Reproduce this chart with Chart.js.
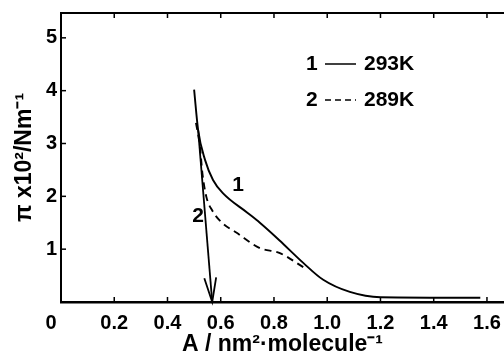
<!DOCTYPE html>
<html>
<head>
<meta charset="utf-8">
<script src="https://cdn.jsdelivr.net/npm/chart.js@4.4.0/dist/chart.umd.min.js"></script>
<style>
  html, body { margin: 0; padding: 0; background: #fff; }
</style>
</head>
<body>
<canvas id="isothermChart" width="504" height="356"></canvas>
<script>
// tick labels
const xTickValues = [0.2, 0.4, 0.6, 0.8, 1.0, 1.2, 1.4, 1.6];
const yTickValues = [1, 2, 3, 4, 5];

// curve 1 - 293 K (solid)
const area293 = [0.50, 0.515, 0.541, 0.571, 0.608, 0.70, 0.747, 0.82, 0.91, 0.985, 1.085, 1.2, 1.575];
const pi293   = [4.02, 3.26, 2.69, 2.31, 2.06, 1.69, 1.50, 1.17, 0.74, 0.42, 0.19, 0.09, 0.08];

// curve 2 - 289 K (dashed)
const area289 = [0.507, 0.522, 0.531, 0.546, 0.567, 0.605, 0.66, 0.747, 0.82, 0.91];
const pi289   = [3.39, 2.94, 2.44, 1.99, 1.74, 1.50, 1.31, 1.02, 0.93, 0.66];

// arrow from the collapse region down to the axis
const arrowArea = [0.515, 0.568];
const arrowPi   = [3.26, 0];

// curve numbers placed next to the lines
const curveNames = ['1', '2'];
const curveNameArea = [0.665, 0.515];
const curveNamePi   = [2.22, 1.63];

// legend
const legendNums  = ['1', '2'];
const legendTemps = ['293K', '289K'];

const FONT = "'Liberation Sans', Arial, sans-serif";

const toPoints = (xs, ys) => xs.map((x, i) => ({ x: x, y: ys[i] }));

// draws the boxed frame, inward ticks, arrowhead, labels and legend
const decorations = {
    id: 'decorations',
    afterDatasetsDraw(chart) {
        const ctx = chart.ctx;
        const xs = chart.scales.x;
        const ys = chart.scales.y;
        const area = chart.chartArea;
        ctx.save();
        ctx.strokeStyle = '#000';
        ctx.fillStyle = '#000';

        // top frame line
        ctx.lineWidth = 2;
        ctx.beginPath();
        ctx.moveTo(area.left - 1, area.top);
        ctx.lineTo(area.right, area.top);
        ctx.stroke();

        // inward ticks
        ctx.lineWidth = 1.5;
        xTickValues.forEach(v => {
            const px = xs.getPixelForValue(v);
            ctx.beginPath();
            ctx.moveTo(px, area.bottom);
            ctx.lineTo(px, area.bottom - 5);
            ctx.moveTo(px, area.top);
            ctx.lineTo(px, area.top + 5);
            ctx.stroke();
        });
        yTickValues.forEach(v => {
            const py = ys.getPixelForValue(v);
            ctx.beginPath();
            ctx.moveTo(area.left, py);
            ctx.lineTo(area.left + 5, py);
            ctx.stroke();
        });

        // arrowhead
        const tipX = xs.getPixelForValue(arrowArea[1]);
        const tipY = ys.getPixelForValue(arrowPi[1]);
        const tailX = xs.getPixelForValue(arrowArea[0]);
        const tailY = ys.getPixelForValue(arrowPi[0]);
        const ang = Math.atan2(tipY - tailY, tipX - tailX);
        ctx.lineWidth = 1.8;
        ctx.beginPath();
        ctx.moveTo(tipX - 25 * Math.cos(ang - 0.24), tipY - 25 * Math.sin(ang - 0.24));
        ctx.lineTo(tipX, tipY);
        ctx.lineTo(tipX - 25 * Math.cos(ang + 0.24), tipY - 25 * Math.sin(ang + 0.24));
        ctx.stroke();

        // curve numbers
        ctx.font = 'bold 21px ' + FONT;
        ctx.textAlign = 'center';
        ctx.textBaseline = 'middle';
        curveNames.forEach((t, i) => {
            ctx.fillText(t, xs.getPixelForValue(curveNameArea[i]), ys.getPixelForValue(curveNamePi[i]));
        });

        // corner zero
        ctx.font = 'bold 20px ' + FONT;
        ctx.fillText('0', area.left - 10, area.bottom + 21);

        // legend
        ctx.textAlign = 'left';
        ctx.font = 'bold 21px ' + FONT;
        legendNums.forEach((n, i) => {
            const yRow = 64 + i * 36;
            ctx.fillText(n, 306, yRow);
            ctx.lineWidth = 1.5;
            ctx.setLineDash(i === 0 ? [] : [6, 4]);
            ctx.beginPath();
            ctx.moveTo(325, yRow);
            ctx.lineTo(356, yRow);
            ctx.stroke();
            ctx.setLineDash([]);
            ctx.fillText(legendTemps[i], 364, yRow);
        });
        ctx.restore();
    }
};

const ctx = document.getElementById('isothermChart').getContext('2d');
const isothermChart = new Chart(ctx, {
    type: 'line',
    data: {
        datasets: [{
            label: '293 K',
            data: toPoints(area293, pi293),
            borderColor: '#000',
            borderWidth: 1.9,
            pointRadius: 0,
            cubicInterpolationMode: 'monotone',
            fill: false
        }, {
            label: '289 K',
            data: toPoints(area289, pi289),
            borderColor: '#000',
            borderWidth: 1.9,
            borderDash: [7, 5],
            pointRadius: 0,
            cubicInterpolationMode: 'monotone',
            fill: false
        }, {
            label: 'arrow',
            data: toPoints(arrowArea, arrowPi),
            borderColor: '#000',
            borderWidth: 1.8,
            pointRadius: 0,
            tension: 0,
            fill: false
        }]
    },
    options: {
        responsive: false,
        animation: false,
        devicePixelRatio: 1,
        layout: { padding: { top: 13, right: 0, left: 0, bottom: 0 } },
        plugins: {
            legend: { display: false },
            tooltip: { enabled: false }
        },
        scales: {
            x: {
                type: 'linear',
                min: 0,
                max: 1.664,
                grid: { display: false, drawTicks: false },
                border: { display: true, color: '#000', width: 2.5 },
                afterBuildTicks: scale => { scale.ticks = xTickValues.map(v => ({ value: v })); },
                afterFit: scale => {
                    scale.height = 54;
                    scale.paddingLeft = 0;
                    scale.paddingRight = 0;
                },
                ticks: {
                    color: '#000',
                    padding: 9,
                    maxRotation: 0,
                    font: { family: FONT, size: 20, weight: 'bold' },
                    callback: v => v.toFixed(1)
                },
                title: {
                    display: true,
                    text: 'A / nm²·molecule⁻¹',
                    color: '#000',
                    padding: { top: 0, bottom: 0 },
                    font: { family: FONT, size: 23, weight: 'bold', lineHeight: 1 }
                }
            },
            y: {
                type: 'linear',
                min: 0,
                max: 5.47,
                grid: { display: false, drawTicks: false },
                border: { display: true, color: '#000', width: 2 },
                afterBuildTicks: scale => { scale.ticks = yTickValues.map(v => ({ value: v })); },
                afterFit: scale => {
                    scale.width = 61;
                    scale.paddingTop = 0;
                    scale.paddingBottom = 0;
                },
                ticks: {
                    color: '#000',
                    padding: 4,
                    font: { family: FONT, size: 20, weight: 'bold' },
                    callback: v => String(v)
                },
                title: {
                    display: true,
                    text: 'π x10²/Nm⁻¹',
                    color: '#000',
                    padding: { top: 13, bottom: 0 },
                    font: { family: FONT, size: 23, weight: 'bold', lineHeight: 1 }
                }
            }
        }
    },
    plugins: [decorations]
});
</script>
</body>
</html>
